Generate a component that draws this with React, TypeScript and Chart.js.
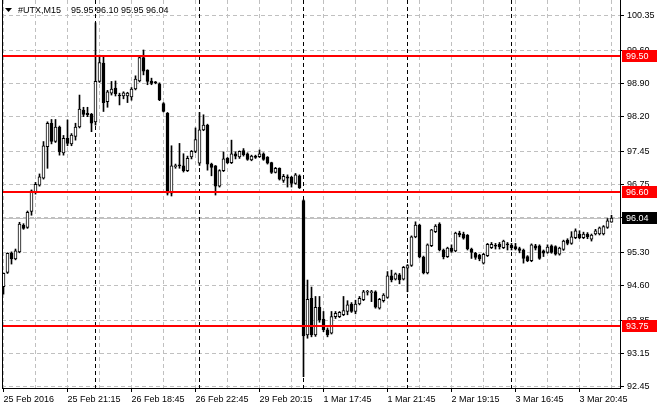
import React, { useEffect, useRef } from "react";
import { Chart, registerables } from "chart.js";

Chart.register(...registerables);

// ---- data (M15 bars, #UTX) ----
const opens = [
  94.58, 94.88, 95.29, 95.17, 95.32, 95.89, 95.84, 96.18, 96.6, 96.74,
  96.89, 97.56, 98.06, 97.67, 97.98, 97.43, 97.74, 97.62, 97.78, 97.98,
  98.34, 98.27, 98.25, 98.09, 98.95, 99.34, 98.52, 98.7, 98.81, 98.66,
  98.64, 98.64, 98.62, 98.79, 98.96, 99.46, 99.19, 98.96, 98.93, 98.9,
  98.48, 98.27, 96.57, 97.13, 97.16, 97.15, 97.05, 97.34, 97.46, 97.21,
  97.92, 98.02, 97.19, 97.15, 96.72, 97.05, 97.31, 97.22, 97.41, 97.34,
  97.48, 97.41, 97.28, 97.36, 97.35, 97.41, 97.34, 97.22, 97.01, 97.1,
  96.84, 96.92, 96.91, 96.78, 96.94, 96.41, 93.55, 94.33, 93.55, 94.14,
  93.89, 93.66, 93.59, 93.94, 93.94, 93.98, 94.05, 94.21, 94.05, 94.21,
  94.3, 94.46, 94.45, 94.47, 94.12, 94.28, 94.35, 94.81, 94.74, 94.83,
  94.74, 94.97, 95.03, 95.64, 95.89, 95.21, 94.87, 95.45, 95.75, 95.91,
  95.36, 95.22, 95.4, 95.34, 95.72, 95.7, 95.67, 95.38, 95.29, 95.25,
  95.08, 95.24, 95.41, 95.45, 95.48, 95.41, 95.48, 95.46, 95.43, 95.39,
  95.36, 95.22, 95.13, 95.45, 95.45, 95.34, 95.31, 95.45, 95.43, 95.27,
  95.37, 95.57, 95.5, 95.62, 95.7, 95.62, 95.7, 95.59, 95.7, 95.7,
  95.7, 95.84, 95.95,
];
const highs = [
  94.87, 95.3, 95.32, 95.38, 95.95, 95.92, 96.19, 96.64, 96.8, 96.98,
  97.67, 98.09, 98.14, 98.14, 98.0, 97.8, 98.13, 97.84, 98.06, 98.66,
  98.4, 98.4, 98.27, 100.2, 99.51, 99.49, 98.76, 98.95, 98.96, 98.7,
  98.73, 98.72, 98.82, 99.07, 99.5, 99.62, 99.2, 99.02, 98.95, 98.92,
  98.5, 98.29, 97.58, 97.19, 97.63, 97.41, 97.36, 97.48, 97.96, 98.29,
  98.24, 98.04, 97.21, 97.16, 97.07, 97.45, 97.33, 97.7, 97.45, 97.47,
  97.52, 97.43, 97.38, 97.38, 97.49, 97.43, 97.35, 97.23, 97.12, 97.11,
  96.97, 96.96, 96.93, 96.99, 96.96, 96.43, 94.72, 94.57, 94.37, 94.37,
  94.05, 93.7, 94.05, 94.05, 94.05, 94.37, 94.28, 94.24, 94.29, 94.37,
  94.5, 94.5, 94.5, 94.49, 94.33, 94.43, 94.9, 94.93, 94.87, 94.86,
  95.01, 95.05, 95.66, 95.96, 95.91, 95.23, 95.49, 95.8, 95.9, 95.94,
  95.38, 95.42, 95.47, 95.74, 95.76, 95.74, 95.69, 95.4, 95.31, 95.27,
  95.29, 95.5, 95.52, 95.5, 95.52, 95.57, 95.52, 95.5, 95.5, 95.42,
  95.38, 95.24, 95.49, 95.48, 95.47, 95.36, 95.47, 95.47, 95.45, 95.42,
  95.57, 95.6, 95.75, 95.81, 95.77, 95.74, 95.73, 95.7, 95.8, 95.85,
  95.88, 96.03, 96.1,
];
const lows = [
  94.42, 94.86, 95.06, 95.15, 95.3, 95.8, 95.82, 96.1, 96.55, 96.72,
  96.87, 97.1, 97.62, 97.65, 97.38, 97.38, 97.58, 97.58, 97.7, 97.96,
  98.2, 98.2, 97.88, 98.02, 98.93, 98.31, 98.4, 98.66, 98.64, 98.45,
  98.58, 98.5, 98.55, 98.77, 98.94, 99.09, 98.88, 98.88, 98.9, 98.54,
  98.3, 96.53, 96.51, 97.1, 97.1, 97.02, 97.03, 97.3, 97.43, 97.16,
  97.9, 97.06, 96.94, 96.53, 96.7, 97.03, 97.2, 97.2, 97.3, 97.31,
  97.36, 97.27, 97.26, 97.31, 97.33, 97.27, 97.19, 96.99, 97.0, 96.85,
  96.8, 96.7, 96.7, 96.76, 96.67, 92.66, 93.48, 93.51, 93.52, 93.82,
  93.62, 93.51, 93.57, 93.9, 93.92, 93.96, 93.98, 94.03, 94.0, 94.19,
  94.28, 94.4, 94.26, 94.12, 94.1, 94.25, 94.33, 94.68, 94.72, 94.64,
  94.72, 94.47, 95.01, 95.62, 95.19, 94.85, 94.85, 95.43, 95.73, 95.34,
  95.17, 95.2, 95.31, 95.32, 95.64, 95.59, 95.36, 95.18, 95.16, 95.13,
  95.06, 95.22, 95.39, 95.38, 95.38, 95.39, 95.36, 95.36, 95.36, 95.3,
  95.08, 95.11, 95.11, 95.36, 95.16, 95.22, 95.29, 95.29, 95.25, 95.25,
  95.35, 95.47, 95.48, 95.6, 95.6, 95.6, 95.6, 95.55, 95.68, 95.68,
  95.68, 95.82, 95.95,
];
const closes = [
  94.86, 95.29, 95.17, 95.34, 95.91, 95.82, 96.16, 96.62, 96.76, 96.92,
  97.58, 98.06, 97.67, 97.98, 97.45, 97.74, 97.63, 97.81, 97.98, 98.36,
  98.25, 98.24, 98.06, 98.95, 99.35, 98.5, 98.73, 98.79, 98.69, 98.64,
  98.71, 98.7, 98.79, 99.0, 99.46, 99.17, 98.95, 98.91, 98.92, 98.56,
  98.31, 96.57, 97.15, 97.16, 97.15, 97.05, 97.31, 97.46, 97.71, 97.92,
  98.02, 97.19, 97.12, 96.72, 97.05, 97.3, 97.22, 97.41, 97.36, 97.46,
  97.39, 97.29, 97.36, 97.33, 97.41, 97.29, 97.21, 97.01, 97.1, 96.87,
  96.93, 96.89, 96.78, 96.96, 96.68, 93.53, 94.31, 93.55, 94.14, 93.87,
  93.66, 93.55, 93.94, 94.01, 94.03, 94.07, 94.19, 94.05, 94.21, 94.33,
  94.47, 94.47, 94.47, 94.14, 94.31, 94.4, 94.81, 94.72, 94.85, 94.72,
  94.99, 95.03, 95.64, 95.89, 95.21, 94.87, 95.47, 95.79, 95.87, 95.36,
  95.22, 95.4, 95.33, 95.72, 95.68, 95.61, 95.38, 95.31, 95.2, 95.17,
  95.27, 95.48, 95.48, 95.44, 95.43, 95.55, 95.47, 95.41, 95.38, 95.35,
  95.18, 95.13, 95.47, 95.4, 95.18, 95.29, 95.42, 95.31, 95.27, 95.4,
  95.55, 95.5, 95.64, 95.77, 95.62, 95.7, 95.64, 95.68, 95.77, 95.83,
  95.86, 95.98, 96.04,
];

const xTickLabels = [
  "25 Feb 2016", "25 Feb 21:15", "26 Feb 18:45", "26 Feb 22:45", "29 Feb 20:15",
  "1 Mar 17:45", "1 Mar 21:45", "2 Mar 19:15", "3 Mar 16:45", "3 Mar 20:45",
];
const barsPerLabel = 16;
const barsPerGrid = 8;
const daySeparators = [23, 49, 75, 101, 127];
const yTicks = [92.45, 93.15, 93.85, 94.6, 95.3, 96.05, 96.75, 97.45, 98.2, 98.9, 99.6, 100.35];
const levels = [99.5, 96.6, 93.75];
const symbolName = "#UTX,M15";

const Y_MIN = 92.42;
const Y_MAX = 100.685;
const X_MIN = -0.375;
const X_MAX = 154.125;

const FONT = "'Liberation Sans', Arial, sans-serif";
const FSIZE = 9;
const GRID = "#c0c0c0";

const zeroPad = (s: any) => {
  s.paddingTop = 0;
  s.paddingBottom = 0;
  s.paddingLeft = 0;
  s.paddingRight = 0;
};

export default function App() {
  const ref = useRef<HTMLCanvasElement | null>(null);

  useEffect(() => {
    document.body.style.margin = "0";
    const canvas = ref.current;
    if (!canvas) return;

    const n = opens.length;
    const idx = opens.map((_, i) => i);
    const bodies = idx.map((i) => ({ x: i, y: [opens[i], closes[i]] }));
    const wicks = idx.map((i) => ({ x: i, y: [lows[i], highs[i]] }));
    const bodyFill = idx.map((i) => (closes[i] >= opens[i] ? "#ffffff" : "#000000"));
    const gridBars: number[] = [];
    for (let b = 0; b < n; b += barsPerGrid) gridBars.push(b);
    const last = n - 1;
    const fmt = (v: number) => v.toFixed(2);

    const mt4 = {
      id: "mt4",
      beforeDatasetsDraw(chart: any) {
        const { ctx, chartArea: a, scales } = chart;
        const x = scales.x, y = scales.y;
        ctx.save();
        const py = Math.round(y.getPixelForValue(closes[last])) + 0.5;
        ctx.strokeStyle = GRID;
        ctx.lineWidth = 1;
        ctx.beginPath();
        ctx.moveTo(a.left, py);
        ctx.lineTo(a.right, py);
        ctx.stroke();
        ctx.strokeStyle = "#000";
        ctx.setLineDash([4, 3]);
        for (const b of daySeparators) {
          const px = Math.floor(x.getPixelForValue(b)) + 0.5;
          ctx.beginPath();
          ctx.moveTo(px, a.top);
          ctx.lineTo(px, a.bottom);
          ctx.stroke();
        }
        ctx.restore();
      },
      afterDatasetsDraw(chart: any) {
        const { ctx, chartArea: a, scales } = chart;
        const y = scales.y;
        ctx.save();
        ctx.strokeStyle = "#ff0000";
        ctx.lineWidth = 2;
        for (const lv of levels) {
          const py = Math.round(y.getPixelForValue(lv));
          ctx.beginPath();
          ctx.moveTo(a.left, py);
          ctx.lineTo(a.right, py);
          ctx.stroke();
        }
        ctx.restore();
      },
      afterDraw(chart: any) {
        const { ctx, chartArea: a, scales } = chart;
        const y = scales.y;
        ctx.save();
        ctx.strokeStyle = "#000";
        ctx.lineWidth = 1;
        ctx.beginPath();
        ctx.moveTo(a.left + 0.5, a.top);
        ctx.lineTo(a.left + 0.5, a.bottom + 1);
        ctx.stroke();
        ctx.font = `${FSIZE}px ${FONT}`;
        ctx.textBaseline = "middle";
        ctx.textAlign = "left";
        const box = (v: number, bg: string) => {
          const py = Math.round(y.getPixelForValue(v));
          ctx.fillStyle = bg;
          ctx.fillRect(a.right + 2, py - 6, 35, 12);
          ctx.fillStyle = "#fff";
          ctx.fillText(fmt(v), a.right + 6, py + 0.5);
        };
        for (const lv of levels) box(lv, "#ff0000");
        box(closes[last], "#000000");
        ctx.fillStyle = "#000";
        ctx.beginPath();
        ctx.moveTo(5, 8);
        ctx.lineTo(12, 8);
        ctx.lineTo(8.5, 12);
        ctx.closePath();
        ctx.fill();
        ctx.fillText(symbolName, 18, 10.5);
        ctx.fillText(
          [opens[last], highs[last], lows[last], closes[last]].map(fmt).join(" "),
          71,
          10.5
        );
        ctx.restore();
      },
    };

    const chart = new Chart(canvas, {
      type: "bar",
      data: {
        datasets: [
          {
            label: "body",
            data: bodies as any,
            grouped: false,
            barThickness: 3,
            backgroundColor: bodyFill,
            borderColor: "#000",
            borderWidth: 1,
            borderSkipped: false,
            minBarLength: 1,
            order: 0,
          } as any,
          {
            label: "wick",
            data: wicks as any,
            grouped: false,
            barThickness: 1,
            backgroundColor: "#000",
            borderWidth: 0,
            order: 1,
          } as any,
        ],
      },
      options: {
        animation: false,
        responsive: false,
        devicePixelRatio: 1,
        events: [],
        layout: { padding: { left: 2, top: 0, right: 0, bottom: 0 } },
        plugins: { legend: { display: false }, tooltip: { enabled: false } },
        scales: {
          x: {
            type: "linear",
            min: X_MIN,
            max: X_MAX,
            offset: false,
            afterBuildTicks: (s: any) => {
              s.ticks = gridBars.map((v) => ({ value: v }));
            },
            afterFit: (s: any) => {
              s.height = 22;
              zeroPad(s);
            },
            ticks: {
              autoSkip: false,
              maxRotation: 0,
              minRotation: 0,
              align: "start",
              padding: 2,
              color: "#000",
              font: { family: FONT, size: FSIZE },
              callback: (v: any) => {
                const b = Number(v);
                return b % barsPerLabel === 0 ? xTickLabels[b / barsPerLabel] ?? "" : "";
              },
            },
            grid: {
              offset: false,
              color: GRID,
              lineWidth: 1,
              drawTicks: true,
              tickLength: 4,
              tickColor: (c: any) =>
                c.tick && Number(c.tick.value) % barsPerLabel === 0 ? "#000" : "rgba(0,0,0,0)",
            },
            border: { color: "#000", width: 1, dash: [4, 3] },
          } as any,
          y: {
            type: "linear",
            position: "right",
            min: Y_MIN,
            max: Y_MAX,
            afterBuildTicks: (s: any) => {
              s.ticks = yTicks.map((v) => ({ value: v }));
            },
            afterFit: (s: any) => {
              s.width = 40;
              zeroPad(s);
            },
            ticks: {
              autoSkip: false,
              padding: 3,
              color: "#000",
              font: { family: FONT, size: FSIZE },
              callback: (v: any) => Number(v).toFixed(2),
            },
            grid: { color: GRID, lineWidth: 1, tickLength: 4, tickColor: "#000" },
            border: { color: "#000", width: 1, dash: [4, 3] },
          } as any,
        },
      },
      plugins: [mt4],
    });

    return () => chart.destroy();
  }, []);

  return (
    <div style={{ width: 660, height: 410, background: "#fff" }}>
      <canvas ref={ref} width={660} height={410} />
    </div>
  );
}
